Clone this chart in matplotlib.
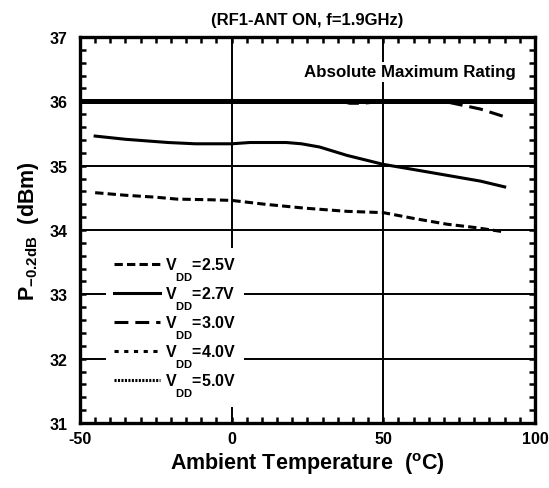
import matplotlib
matplotlib.use('Agg')
import matplotlib.pyplot as plt
from matplotlib.ticker import MultipleLocator

plt.rcParams['font.family'] = ['Liberation Sans', 'DejaVu Sans']
plt.rcParams['font.weight'] = 'bold'
plt.rcParams['mathtext.default'] = 'regular'
plt.rcParams['axes.unicode_minus'] = False
plt.rcParams['lines.scale_dashes'] = False

# data
temp_25 = [-45, -35, -25, -18, -7, 0, 11, 24, 38, 50, 60, 71, 80, 90]
vdd_25 = [34.58, 34.54, 34.51, 34.48, 34.47, 34.46, 34.40, 34.34, 34.29, 34.27, 34.18, 34.09, 34.04, 33.97]

temp_27 = [-45, -35, -21, -12, 0, 6, 18, 23, 29, 38, 50, 60, 82, 90]
vdd_27 = [35.46, 35.41, 35.36, 35.34, 35.34, 35.36, 35.36, 35.34, 35.29, 35.16, 35.02, 34.94, 34.76, 34.67]

temp_30 = [-45, -20, 0, 20, 36, 39, 43, 50, 60, 70, 75, 82, 90]
vdd_30 = [36.0, 36.0, 36.0, 36.0, 36.0, 35.97, 35.97, 36.0, 36.0, 36.0, 35.95, 35.88, 35.76]

temp_40 = [-45, 0, 50, 90]
vdd_40 = [36.0, 36.0, 36.0, 36.0]

temp_50 = [-45, 0, 50, 90]
vdd_50 = [36.0, 36.0, 36.0, 36.0]

abs_max = 36.0
vdd_values = ['2.5V', '2.7V', '3.0V', '4.0V', '5.0V']
# V with a "DD" subscript hanging fully below the baseline, as in the datasheet
series_labels = [r'V$\underset{DD}{\,}$=' + v for v in vdd_values]

fig = plt.figure(figsize=(5.49, 4.89), dpi=100)
ax = fig.add_axes([0.1457, 0.1329, 0.8288, 0.7894])

for yv in [32, 33, 34, 35]:
    ax.axhline(yv, color='black', lw=1.4, zorder=1)
ax.axvline(0, color='black', lw=1.4, zorder=1)
ax.axvline(50, color='black', lw=1.4, zorder=1)
ax.axhline(abs_max, color='black', lw=3.6, zorder=2)

lw = 2.2
ax.plot(temp_25, vdd_25, color='black', lw=lw, dashes=(6, 3), label=series_labels[0])
ax.plot(temp_27, vdd_27, color='black', lw=lw, label=series_labels[1])
ax.plot(temp_30, vdd_30, color='black', lw=lw, dashes=(10, 5), label=series_labels[2])
ax.plot(temp_40, vdd_40, color='black', lw=lw, dashes=(3, 4), label=series_labels[3])
ax.plot(temp_50, vdd_50, color='black', lw=lw, dashes=(1.5, 1), label=series_labels[4])

ax.text(93.5, 36.46, 'Absolute Maximum Rating', ha='right', va='center',
        fontsize=12.2, fontweight='bold', zorder=4,
        bbox=dict(facecolor='white', edgecolor='none', pad=2))

ax.set_xlim(-50, 100)
ax.set_ylim(31, 37)
ax.xaxis.set_major_locator(MultipleLocator(50))
ax.xaxis.set_minor_locator(MultipleLocator(5))
ax.yaxis.set_major_locator(MultipleLocator(1))
ax.yaxis.set_minor_locator(MultipleLocator(0.2))
ax.tick_params(which='both', direction='in', top=True, right=True,
               length=4, width=1.8, labelsize=11.5)
ax.tick_params(axis='x', pad=6)
ax.tick_params(axis='y', pad=9)
for lab in ax.get_xticklabels() + ax.get_yticklabels():
    lab.set_fontweight('bold')
for sp in ax.spines.values():
    sp.set_linewidth(2.4)

ax.set_title('(RF1-ANT ON, f=1.9GHz)', fontsize=12, fontweight='bold', pad=9)
ax.set_xlabel('Ambient Temperature  ($^{o}$C)', fontsize=15.5, fontweight='bold', labelpad=3)
ax.set_ylabel('P$_{-0.2dB}$  (dBm)', fontsize=15.5, fontweight='bold', labelpad=6)

leg = ax.legend(loc='lower left', bbox_to_anchor=(0.04, 0.02), frameon=True,
                fancybox=False, edgecolor='none', facecolor='white', framealpha=1,
                handlelength=2.9, handletextpad=0.3, labelspacing=0.1,
                borderpad=0.5, prop={'weight': 'bold', 'size': 11.5})
leg.set_zorder(5)

fig.savefig('out.png', dpi=100)
